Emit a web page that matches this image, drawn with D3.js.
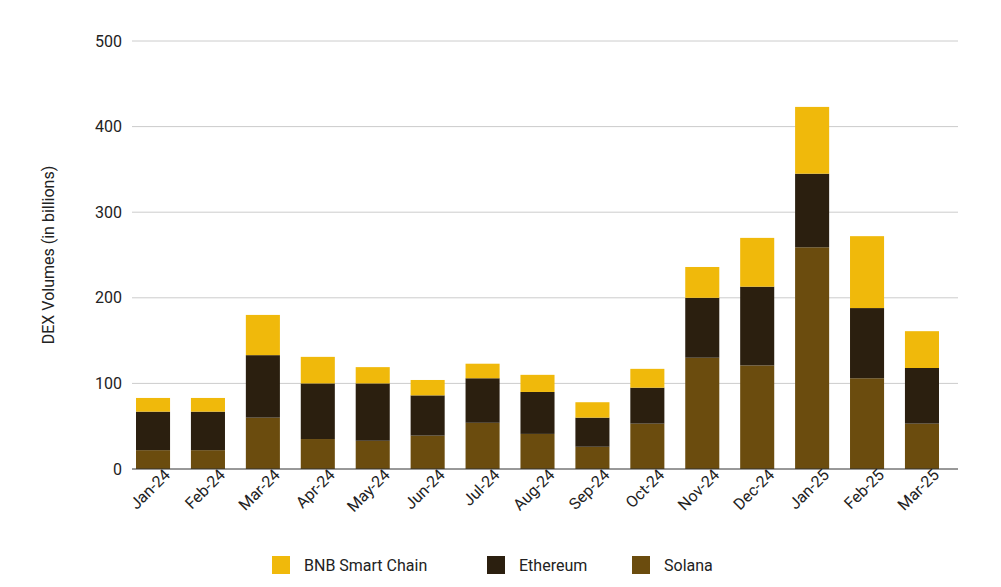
<!DOCTYPE html>
<html><head><meta charset="utf-8">
<script src="https://cdn.jsdelivr.net/npm/d3@7"></script>
<style>body{margin:0;background:#fff;font-family:Roboto,Arial,sans-serif}</style>
</head><body><div id="chart"></div>
<script>
// values in billions
const months = ["Jan-24","Feb-24","Mar-24","Apr-24","May-24","Jun-24","Jul-24","Aug-24","Sep-24","Oct-24","Nov-24","Dec-24","Jan-25","Feb-25","Mar-25"];
const solana = [22, 22, 60, 35, 33, 39, 54, 41, 26, 53, 130, 121, 259, 106, 53];
const ethereum = [45, 45, 73, 65, 67, 47, 52, 49, 34, 42, 70, 92, 86, 82, 65];
const bnb = [16, 16, 47, 31, 19, 18, 17, 20, 18, 22, 36, 57, 78, 84, 43];
const yTicks = [0, 100, 200, 300, 400, 500];
const seriesNames = ["Solana", "Ethereum", "BNB Smart Chain"];
const colors = {"Solana": "#6b4c0e", "Ethereum": "#2b1f0f", "BNB Smart Chain": "#f0b90b"};

const W = 1001, H = 587;
const margin = {top: 41, right: 43, bottom: 118, left: 132};
const iw = W - margin.left - margin.right, ih = H - margin.top - margin.bottom;

const svg = d3.select("#chart").append("svg").attr("width", W).attr("height", H);
const g = svg.append("g").attr("transform", `translate(${margin.left},${margin.top})`);

const rows = months.map((m, i) => ({month: m, "Solana": solana[i], "Ethereum": ethereum[i], "BNB Smart Chain": bnb[i]}));
const stacked = d3.stack().keys(seriesNames)(rows);

const x = d3.scaleBand().domain(months).range([4, 807]).paddingInner(0.38).paddingOuter(0);
const y = d3.scaleLinear().domain([0, 500]).range([ih, 0]);

// grid
g.selectAll(".grid").data(yTicks.slice(1)).enter().append("line")
  .attr("x1", 0).attr("x2", iw).attr("y1", d => y(d)).attr("y2", d => y(d))
  .attr("stroke", "#cccccc");

g.append("g").call(d3.axisLeft(y).tickValues(yTicks).tickSize(0).tickPadding(10))
  .call(a => a.select(".domain").remove())
  .selectAll("text").style("font-size", "16px").style("fill", "#222").style("font-family", "Roboto,Arial,sans-serif");

g.selectAll(".layer").data(stacked).enter().append("g")
  .attr("fill", d => colors[d.key])
  .selectAll("rect").data(d => d).enter().append("rect")
  .attr("x", d => x(d.data.month)).attr("width", x.bandwidth())
  .attr("y", d => y(d[1])).attr("height", d => y(d[0]) - y(d[1]));

g.append("line").attr("x1", 0).attr("x2", iw).attr("y1", ih).attr("y2", ih).attr("stroke", "#333");

const xa = g.append("g").attr("transform", `translate(0,${ih})`)
  .call(d3.axisBottom(x).tickSize(0).tickPadding(8));
xa.select(".domain").remove();
xa.selectAll("text").style("font-size", "16px").style("fill", "#222").style("font-family", "Roboto,Arial,sans-serif")
  .attr("text-anchor", "end").attr("dx", "0.5em").attr("dy", "0.6em").attr("transform", "rotate(-45)");

svg.append("text").attr("transform", `translate(54,${margin.top + ih / 2}) rotate(-90)`)
  .attr("text-anchor", "middle").style("font-size", "16px").style("fill", "#222")
  .text("DEX Volumes (in billions)");

// legend
const legendItems = [{name: "BNB Smart Chain", x: 272}, {name: "Ethereum", x: 487}, {name: "Solana", x: 632}];
const lg = svg.selectAll(".lg").data(legendItems).enter().append("g")
  .attr("transform", d => `translate(${d.x},556)`);
lg.append("rect").attr("width", 18).attr("height", 18).attr("fill", d => colors[d.name]);
lg.append("text").attr("x", 32).attr("y", 15).style("font-size", "16px").style("fill", "#222").text(d => d.name);
</script></body></html>
